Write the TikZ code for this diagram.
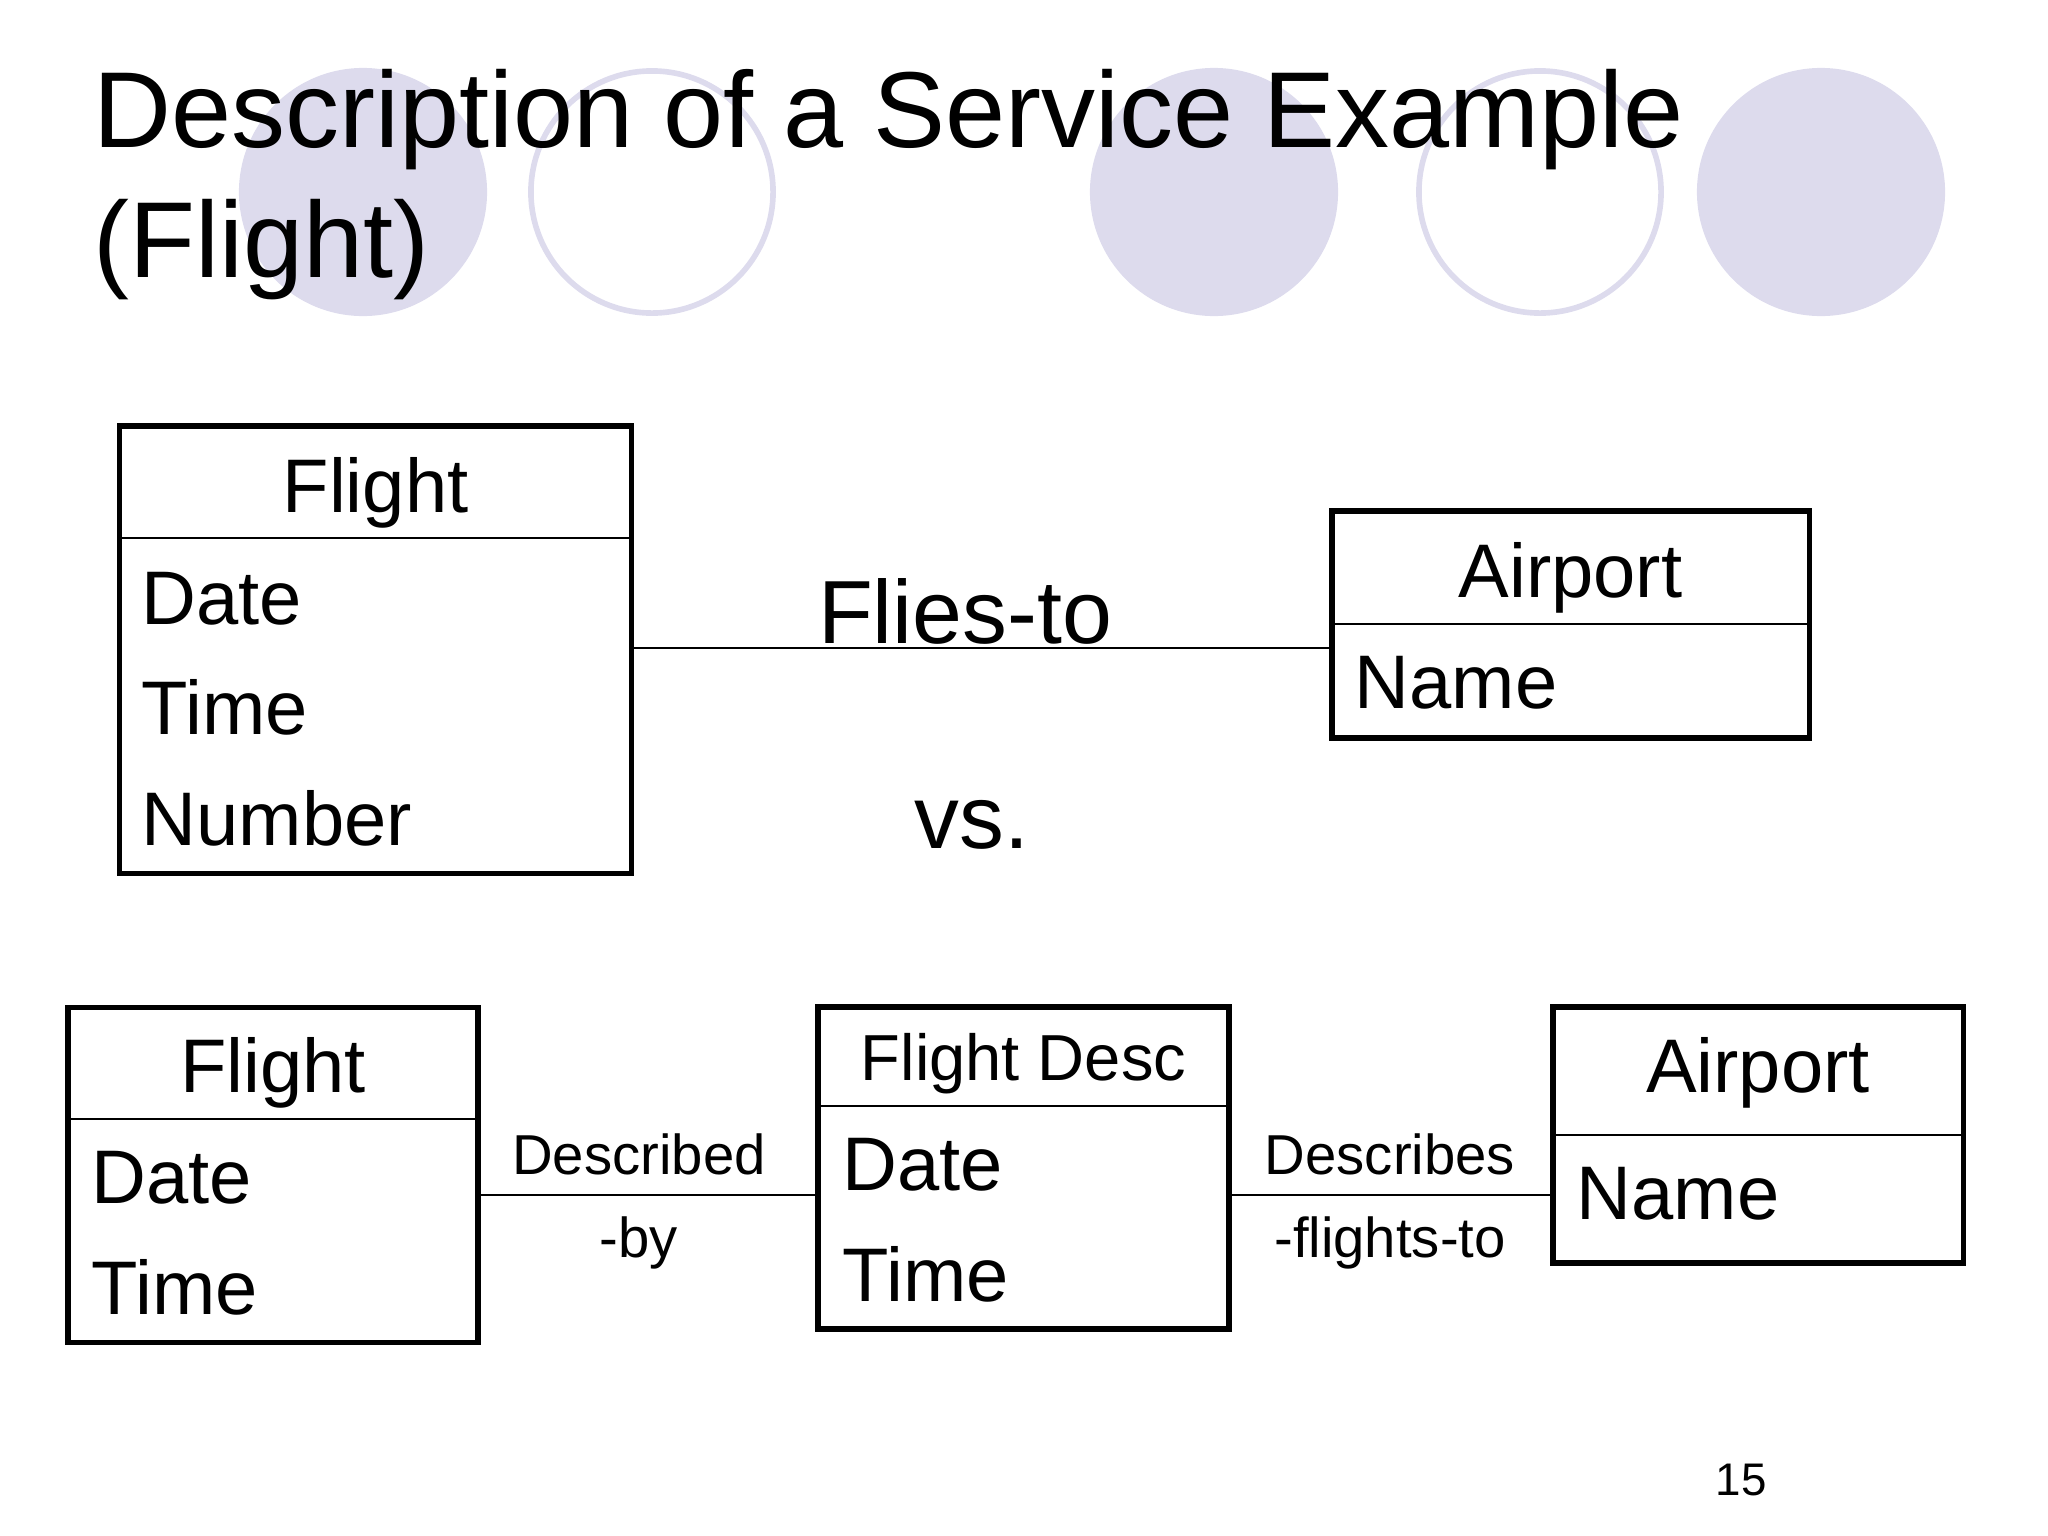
\documentclass[tikz,border=0pt]{standalone}
\usepackage{fontspec}
\setmainfont{Liberation Sans}
\definecolor{lavender}{RGB}{221,219,237}
\begin{document}
\begin{tikzpicture}[x=0.01cm,y=-0.01cm]
        \tikzstyle{dot}=[fill=lavender]
        \tikzstyle{ring}=[draw=lavender, line width=1.6pt]
        \tikzstyle{box}=[rectangle, draw, line width=1.5pt, inner sep=0pt]
        \tikzstyle{divider}=[line width=0.6pt]
        \tikzstyle{link}=[line width=0.6pt]
        \tikzstyle{title}=[anchor=base west, inner sep=0pt, font=\fontsize{30.7}{36}\selectfont]
        \tikzstyle{attr}=[anchor=base west, inner sep=0pt, font=\fontsize{21.6}{26}\selectfont]
        \tikzstyle{head}=[anchor=base, inner sep=0pt, font=\fontsize{21.6}{26}\selectfont]
        \tikzstyle{rel}=[anchor=base, inner sep=0pt, font=\fontsize{16}{19}\selectfont]

        \useasboundingbox (0,0) rectangle (2048,1536);

        \fill[dot]  (363,192) circle (1.24cm);
        \draw[ring] (652,192) circle (1.21cm);
        \fill[dot]  (1214,192) circle (1.24cm);
        \draw[ring] (1540,192) circle (1.21cm);
        \fill[dot]  (1821,192) circle (1.24cm);

        \node[title] (title1) at (93,147) {Description of a Service Example};
        \node[title] (title2) at (93,277) {(Flight)};

        % upper model
        \node[box, minimum width=5.11cm, minimum height=4.47cm] (flightA) at (375.5,649.5) {};
        \draw[divider] (flightA.west |- 0,538) -- (flightA.east |- 0,538);
        \node[head] (flightAh) at (375.5,512) {Flight};
        \node[attr] (flightAd) at (141,624) {Date};
        \node[attr] (flightAt) at (141,734) {Time};
        \node[attr] (flightAn) at (141,845) {Number};

        \node[box, minimum width=4.77cm, minimum height=2.27cm] (airportA) at (1570.5,624.5) {};
        \draw[divider] (airportA.west |- 0,624) -- (airportA.east |- 0,624);
        \node[head] (airportAh) at (1570.5,597) {Airport};
        \node[attr] (airportAn) at (1354,708) {Name};

        \draw[link] (flightA.east |- 0,648) -- (airportA.west |- 0,648);
        \node[head, font=\fontsize{25.5}{30}\selectfont] (fliesto) at (965,643) {Flies-to};
        \node[head, font=\fontsize{25.5}{30}\selectfont] (versus) at (972,848) {vs.};

        % lower model
        \node[box, minimum width=4.10cm, minimum height=3.35cm] (flightB) at (273,1175) {};
        \draw[divider] (flightB.west |- 0,1119) -- (flightB.east |- 0,1119);
        \node[head] (flightBh) at (273,1092) {Flight};
        \node[attr] (flightBd) at (91,1203) {Date};
        \node[attr] (flightBt) at (91,1314) {Time};

        \node[box, minimum width=4.11cm, minimum height=3.22cm] (desc) at (1023.5,1168) {};
        \draw[divider] (desc.west |- 0,1106) -- (desc.east |- 0,1106);
        \node[head, font=\fontsize{18.5}{22}\selectfont] (desch) at (1023.5,1080) {Flight Desc};
        \node[attr] (descd) at (842,1190) {Date};
        \node[attr] (desct) at (842,1301) {Time};

        \node[box, minimum width=4.10cm, minimum height=2.56cm] (airportB) at (1758,1135) {};
        \draw[divider] (airportB.west |- 0,1135) -- (airportB.east |- 0,1135);
        \node[head] (airportBh) at (1758,1092) {Airport};
        \node[attr] (airportBn) at (1576,1219) {Name};

        \draw[link] (flightB.east |- 0,1195) -- (desc.west |- 0,1195);
        \draw[link] (desc.east |- 0,1195) -- (airportB.west |- 0,1195);
        \node[rel] (descby1) at (639,1174) {Described};
        \node[rel] (descby2) at (639,1257) {-by};
        \node[rel] (descto1) at (1390,1174) {Describes};
        \node[rel] (descto2) at (1390,1257) {-flights-to};

        \node[anchor=base, inner sep=0pt, font=\fontsize{13}{16}\selectfont] (page) at (1741,1495) {15};
    \end{tikzpicture}
\end{document}
